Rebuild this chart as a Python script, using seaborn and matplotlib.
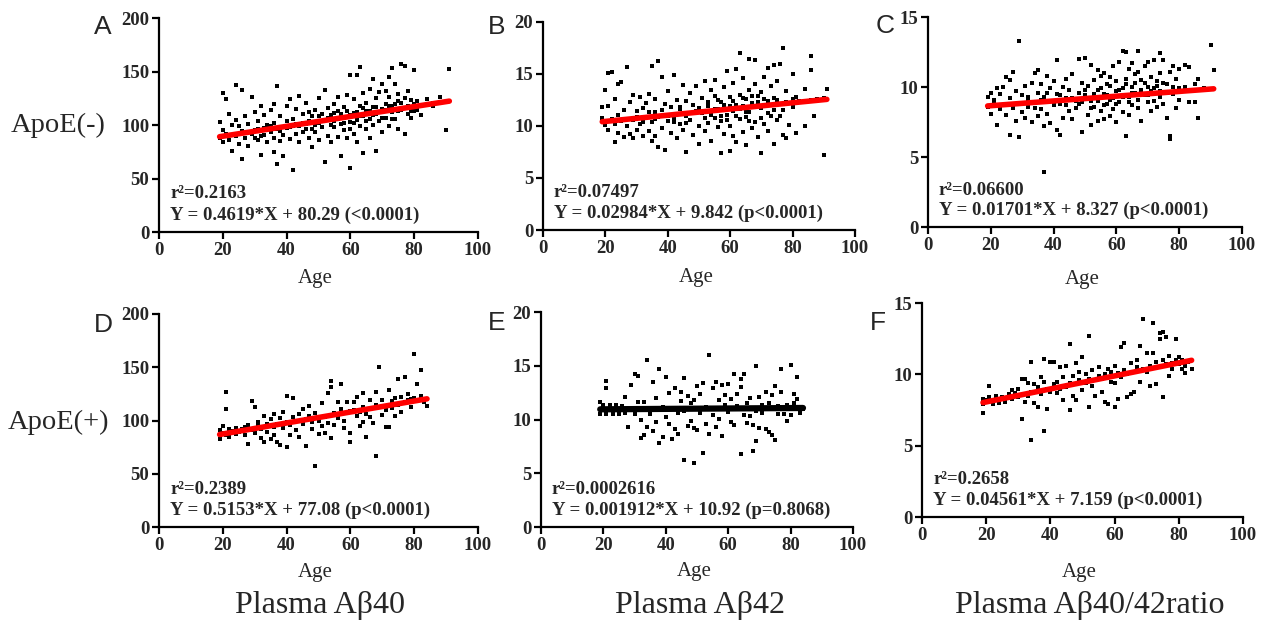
import pandas as pd
import matplotlib
matplotlib.use("Agg")
import matplotlib.pyplot as plt
import seaborn as sns

# (age, value) pairs
a40_neg = [(19,103),(19,88),(20,95),(20,130),(20,84),(21,124),(21,92),(22,110),(22,86),(23,76),(23,100),
           (24,137),(24,105),(24,90),(25,99),(25,82),(26,68),(26,133),(26,94),(27,88),(27,108),(28,101),(28,80),
           (29,126),(29,92),(30,95),(30,112),(31,86),(31,104),(32,118),(32,90),(32,72),(33,97),(33,109),(34,84),
           (34,100),(35,114),(35,93),(36,75),(36,88),(36,102),(36,120),(37,64),(37,136),(37,96),(38,108),(38,85),
           (39,91),(39,71),(40,104),(40,118),(41,87),(41,98),(41,124),(42,58),(42,106),(43,92),(43,115),(44,127),
           (44,99),(44,84),(45,110),(45,93),(46,101),(46,121),(47,88),(47,112),(48,96),(48,108),(48,79),(49,114),
           (49,93),(50,102),(50,125),(50,86),(51,98),(51,110),(52,65),(52,133),(52,105),(53,90),(53,116),(54,109),
           (54,84),(55,120),(55,98),(55,104),(56,89),(56,113),(56,126),(57,71),(57,101),(58,95),(58,117),(58,107),
           (59,128),(59,88),(60,60),(60,147),(60,103),(60,96),(61,111),(61,124),(61,92),(62,147),(62,105),(62,84),
           (63,154),(63,99),(63,118),(64,108),(64,74),(64,130),(65,96),(65,113),(65,121),(66,88),(66,134),(66,106),
           (67,117),(67,100),(67,143),(68,76),(68,125),(68,110),(69,131),(69,104),(70,93),(70,138),(70,115),
           (71,120),(71,107),(71,132),(72,99),(72,145),(72,126),(73,153),(73,112),(73,118),(74,138),(74,106),
           (75,96),(75,122),(75,129),(76,157),(76,114),(77,155),(77,92),(77,125),(78,118),(78,132),(79,113),
           (79,107),(80,151),(80,120),(81,122),(81,114),(82,109),(84,124),(86,118),(86,121),(88,126),(91,152),(90,95)]
a40_neg_core = [(30,88),(31,96),(33,91),(35,99),(38,94),(40,97),(42,99),(43,101),(45,102),(46,96),(47,104),
                (49,100),(50,108),(51,104),(53,107),(54,100),(55,111),(56,106),(57,110),(58,102),(59,113),(60,109),
                (61,102),(62,112),(63,108),(64,116),(65,104),(66,113),(67,109),(68,117),(69,112),(70,107),(71,114),
                (72,118),(73,106),(74,120),(75,113),(76,121),(77,116),(78,110),(79,123),(80,113)]

a42_neg = [(19,10.8),(19,11.8),(20,13.5),(20,10.1),(21,15.1),(21,11.9),(21,9.6),(22,15.2),(22,10.7),(23,8.5),
           (23,12.6),(23,10.2),(24,14.0),(24,9.3),(24,11.1),(25,14.2),(25,10.5),(26,8.9),(26,11.5),(27,15.7),
           (27,10.0),(28,12.3),(28,9.2),(29,13.0),(29,10.6),(29,8.8),(30,11.4),(30,9.6),(31,12.8),(31,10.2),
           (32,9.0),(32,11.7),(33,12.2),(33,10.8),(34,9.5),(34,13.1),(35,15.8),(35,10.4),(35,8.6),(36,11.3),
           (36,9.0),(36,12.6),(37,16.2),(37,10.9),(37,8.0),(38,14.7),(38,9.8),(39,12.1),(39,7.7),(40,10.5),
           (40,13.4),(41,11.8),(41,9.3),(42,14.9),(42,10.7),(43,12.5),(43,8.8),(44,10.2),(44,11.6),(45,13.9),
           (45,9.6),(46,7.5),(46,11.0),(46,12.4),(47,10.6),(47,13.2),(48,9.1),(48,12.0),(49,11.4),(49,13.8),
           (50,10.0),(50,8.3),(51,12.7),(51,11.2),(52,9.5),(52,14.3),(53,11.9),(53,10.3),(54,13.5),(54,8.6),
           (55,10.8),(55,12.9),(55,14.4),(56,9.9),(56,11.6),(57,7.4),(57,12.3),(57,10.5),(58,13.7),(58,9.2),
           (59,11.1),(59,15.3),(60,7.6),(60,12.8),(60,10.0),(61,14.1),(61,11.4),(61,9.0),(62,12.0),(62,8.5),
           (62,15.5),(63,17.0),(63,10.7),(63,13.0),(64,11.9),(64,9.4),(64,14.6),(65,12.6),(65,8.2),(65,10.9),
           (66,16.4),(66,11.3),(66,13.5),(67,9.8),(67,12.2),(68,16.3),(68,10.4),(68,14.0),(69,12.9),(69,8.9),
           (70,7.4),(70,11.7),(70,13.3),(71,14.7),(71,10.2),(72,15.6),(72,12.4),(72,9.5),(73,13.8),(73,11.0),
           (74,15.9),(74,12.7),(74,8.3),(75,10.6),(75,14.3),(76,16.0),(76,12.1),(77,17.5),(77,11.5),(77,9.1),
           (78,13.4),(78,8.8),(79,12.2),(79,10.1),(80,15.0),(80,11.8),(81,9.3),(81,12.8),(82,12.4),(84,10.0),
           (84,13.6),(86,16.7),(86,15.4),(86,12.5),(87,11.0),(88,12.6),(90,7.2),(90,12.7),(91,13.6)]
a42_neg_core = [(30,10.9),(32,10.4),(34,11.3),(36,10.7),(38,11.5),(40,11.0),(42,10.4),(44,11.8),(46,10.3),
                (48,11.2),(50,11.7),(52,10.8),(53,12.3),(54,11.1),(55,11.6),(56,12.5),(57,11.0),(58,12.0),
                (59,10.6),(60,11.9),(61,12.4),(62,11.0),(63,11.6),(64,12.7),(65,11.3),(66,10.5),(67,12.9),
                (68,11.8),(69,12.3),(70,10.8),(71,12.6),(72,11.2),(73,12.0),(74,11.5),(75,12.5),(76,11.0),
                (78,12.3),(80,12.6)]

ratio_neg = [(19,9.3),(19,8.6),(20,9.6),(20,8.1),(21,8.9),(21,9.1),(22,7.3),(22,9.9),(23,8.4),(23,9.5),(24,10.0),
             (24,8.7),(25,10.7),(25,8.0),(26,6.6),(26,9.2),(26,10.5),(27,11.1),(27,8.5),(28,9.7),(28,7.6),(29,13.3),
             (29,6.4),(29,8.8),(30,9.4),(30,8.2),(31,10.1),(31,7.8),(32,9.0),(32,8.6),(33,10.3),(33,7.5),(34,11.0),
             (34,8.9),(35,9.6),(35,7.9),(35,11.2),(36,8.4),(36,10.2),(37,3.9),(37,9.3),(37,7.2),(38,10.8),(38,8.1),
             (39,9.9),(39,7.4),(40,8.7),(40,10.4),(41,11.9),(41,9.5),(41,6.9),(42,6.6),(42,8.8),(43,10.0),(43,7.8),
             (44,9.2),(44,10.6),(45,8.3),(45,9.8),(46,10.9),(46,7.7),(47,9.0),(47,8.5),(48,12.0),(48,9.6),(49,6.8),
             (49,10.3),(49,8.9),(50,12.1),(50,9.4),(51,8.0),(51,10.1),(52,11.6),(52,9.0),(52,7.3),(53,8.6),(53,10.5),
             (54,9.8),(54,11.2),(54,7.6),(55,8.3),(55,10.8),(56,9.5),(56,7.7),(56,11.0),(57,10.2),(57,8.8),(58,9.1),
             (58,10.7),(58,7.9),(59,11.5),(59,8.4),(60,9.7),(60,10.4),(60,7.5),(61,8.9),(61,11.8),(62,12.6),(62,9.9),
             (62,8.2),(63,12.5),(63,6.5),(63,10.6),(64,9.3),(64,11.3),(64,8.0),(65,10.0),(65,8.7),(65,11.7),(66,9.6),
             (66,10.9),(67,12.6),(67,8.5),(67,11.1),(68,9.8),(68,7.6),(69,11.5),(69,10.3),(70,8.9),(70,11.8),(70,9.4),
             (71,10.7),(71,8.3),(72,11.9),(72,9.9),(73,10.4),(73,8.6),(74,12.4),(74,9.7),(74,11.0),(75,11.9),(75,8.8),
             (76,10.2),(76,7.8),(77,6.3),(77,6.5),(77,11.1),(78,9.5),(78,11.5),(79,10.6),(79,8.5),(80,9.1),(80,11.3),
             (82,11.6),(82,10.0),(83,11.4),(83,8.9),(85,8.9),(85,10.2),(86,7.8),(86,10.6),(88,9.9),(90,13.0),(91,11.2)]
ratio_neg_core = [(30,8.8),(32,9.3),(34,8.5),(36,9.1),(38,9.6),(40,8.9),(42,9.4),(44,8.7),(46,9.2),(48,8.8),
                  (50,9.8),(52,8.5),(53,9.5),(54,9.0),(55,9.9),(56,8.7),(57,9.4),(58,10.1),(59,9.2),(60,8.8),
                  (61,9.8),(62,9.3),(63,10.2),(64,8.9),(65,9.6),(66,10.3),(67,9.1),(68,10.5),(69,9.4),(70,10.0),
                  (71,9.7),(72,9.0),(73,10.1),(74,9.3),(75,10.3),(76,9.6),(78,10.0),(80,9.9)]

a40_pos = [(19,91),(19,83),(20,88),(20,95),(21,127),(21,111),(21,86),(22,92),(22,85),(23,90),(24,93),(24,87),
           (25,89),(26,92),(27,94),(27,86),(28,78),(28,96),(29,118),(29,91),(30,113),(30,88),(31,96),(31,99),
           (32,84),(32,92),(33,80),(33,104),(34,97),(34,89),(35,101),(35,83),(36,86),(36,94),(36,106),(37,97),
           (37,80),(38,102),(38,77),(39,108),(39,93),(40,123),(40,99),(40,75),(41,96),(41,86),(42,121),(42,103),
           (43,100),(43,91),(44,106),(44,85),(45,111),(45,97),(46,76),(46,101),(47,104),(47,114),(48,92),(48,99),
           (49,57),(49,107),(50,100),(50,87),(51,116),(51,95),(52,103),(52,88),(53,126),(53,98),(54,137),(54,131),
           (54,84),(55,107),(55,96),(56,102),(56,117),(57,134),(57,111),(58,100),(58,93),(59,117),(59,107),
           (60,80),(60,109),(60,88),(61,110),(61,117),(62,122),(62,104),(63,108),(63,95),(64,126),(64,113),
           (64,99),(65,85),(65,106),(66,119),(66,103),(67,98),(67,112),(68,67),(68,127),(68,115),(69,150),
           (69,113),(70,105),(70,119),(71,94),(71,110),(72,129),(72,94),(73,112),(73,118),(74,104),(74,121),
           (75,139),(75,115),(76,108),(76,122),(77,141),(77,117),(78,119),(78,125),(79,113),(79,120),(80,162),
           (80,121),(81,134),(81,118),(82,147),(82,123),(83,117),(84,114)]

a42_pos = [(19,11.6),(19,10.5),(20,11.4),(21,13.6),(21,12.9),(21,10.5),(22,11.4),(23,10.5),(24,11.4),(25,10.5),
           (26,11.3),(27,12.1),(27,10.6),(28,9.3),(29,13.2),(29,11.1),(30,14.2),(30,10.5),(31,14.1),(31,11.6),
           (32,10.0),(32,8.3),(33,11.6),(33,8.6),(34,15.5),(34,9.3),(35,11.0),(35,10.5),(36,13.5),(36,8.9),
           (37,9.8),(37,12.0),(38,14.7),(38,7.8),(39,11.2),(39,8.4),(40,14.0),(40,10.2),(41,12.5),(41,9.6),
           (42,11.0),(42,8.2),(43,12.9),(43,9.1),(44,10.6),(44,8.7),(45,11.7),(45,12.6),(46,6.2),(46,13.9),
           (46,10.8),(47,9.4),(47,12.2),(48,11.5),(48,9.9),(49,6.0),(49,9.2),(49,11.8),(50,13.1),(50,9.0),
           (51,12.4),(51,10.6),(52,6.9),(52,13.4),(53,11.2),(53,9.6),(54,16.0),(54,8.7),(55,12.9),(55,10.4),
           (56,13.5),(56,9.3),(57,11.8),(57,10.1),(58,13.2),(58,8.5),(59,11.4),(59,12.3),(60,10.7),(60,13.3),
           (61,9.8),(61,11.9),(62,14.2),(62,9.5),(63,11.3),(63,12.4),(64,6.8),(64,13.8),(64,13.0),(65,14.2),
           (65,10.4),(66,11.5),(66,9.7),(67,12.0),(67,10.3),(68,7.1),(68,9.5),(69,15.0),(69,8.0),(69,10.8),
           (70,12.1),(70,9.2),(71,10.6),(71,11.4),(72,9.1),(72,12.6),(73,11.5),(73,8.8),(74,8.6),(74,12.3),
           (75,13.1),(75,8.1),(76,11.3),(76,10.5),(77,14.7),(77,12.6),(78,10.5),(79,9.9),(79,11.4),(80,15.1),
           (80,10.4),(81,12.4),(81,11.5),(82,14.0),(82,11.9),(83,11.1),(83,10.6),(84,11.0)]

ratio_pos = [(19,7.3),(19,7.9),(19,8.3),(20,8.2),(21,9.2),(21,8.4),(22,7.9),(23,8.5),(24,8.0),(25,8.4),(26,8.1),
             (27,8.6),(28,8.9),(28,8.3),(29,8.7),(30,8.4),(30,9.0),(31,6.9),(31,9.7),(32,8.1),(32,9.7),(33,9.4),
             (33,8.5),(34,5.4),(34,10.9),(34,8.8),(35,9.3),(35,8.0),(36,7.7),(36,9.1),(37,8.6),(37,9.8),(38,6.0),
             (38,11.1),(38,9.5),(39,7.6),(39,9.0),(40,10.9),(40,8.8),(41,9.3),(41,10.9),(42,8.7),(42,9.5),(43,9.0),
             (43,10.5),(44,9.8),(44,8.2),(45,9.1),(45,10.6),(46,12.1),(46,7.5),(46,9.4),(47,8.5),(47,9.9),(48,10.8),
             (48,8.2),(49,9.6),(49,10.2),(50,11.2),(50,8.9),(51,9.4),(51,10.0),(52,12.7),(52,7.7),(52,9.7),(53,9.2),
             (53,10.3),(54,9.6),(54,8.5),(55,10.5),(55,9.9),(56,8.8),(56,9.7),(57,10.0),(57,8.1),(58,7.9),(58,10.4),
             (59,9.5),(59,10.2),(60,7.7),(60,10.6),(60,9.4),(61,10.1),(61,8.3),(62,11.9),(62,9.8),(63,12.2),
             (63,10.3),(64,8.4),(64,10.0),(65,8.6),(65,10.8),(66,10.2),(66,8.8),(67,11.0),(67,10.5),(68,12.0),
             (68,9.5),(69,13.9),(69,10.4),(70,11.5),(70,10.2),(71,10.6),(71,9.2),(72,13.6),(72,11.5),(73,10.9),
             (73,9.3),(74,12.9),(74,12.5),(74,10.5),(75,13.0),(75,8.4),(75,11.0),(76,12.6),(76,10.7),(77,11.3),
             (77,9.9),(78,10.8),(78,10.4),(79,12.5),(79,11.0),(80,10.7),(80,11.2),(81,10.4),(81,11.0),(82,10.1),
             (82,10.6),(83,10.9),(84,10.4)]

# linear fits as printed on the figure
slopes = [0.4619, 0.02984, 0.01701, 0.5153, 0.001912, 0.04561]
intercepts = [80.29, 9.842, 8.327, 77.08, 10.92, 7.159]
r2_labels = ["r²=0.2163", "r²=0.07497", "r²=0.06600", "r²=0.2389", "r²=0.0002616", "r²=0.2658"]
eq_labels = ["Y = 0.4619*X + 80.29 (<0.0001)", "Y = 0.02984*X + 9.842 (p<0.0001)",
             "Y = 0.01701*X + 8.327 (p<0.0001)", "Y = 0.5153*X + 77.08 (p<0.0001)",
             "Y = 0.001912*X + 10.92 (p=0.8068)", "Y = 0.04561*X + 7.159 (p<0.0001)"]
panel_letters = ["A", "B", "C", "D", "E", "F"]
y_maxes = [200, 20, 15, 200, 20, 15]
y_steps = [50, 5, 5, 50, 5, 5]
line_colors = ["#ff0000", "#ff0000", "#ff0000", "#ff0000", "#000000", "#ff0000"]
row_labels = ["ApoE(-)", "ApoE(+)"]
col_titles = ["Plasma Aβ40", "Plasma Aβ42", "Plasma Aβ40/42ratio"]

datasets = [a40_neg + a40_neg_core, a42_neg + a42_neg_core, ratio_neg + ratio_neg_core,
            a40_pos, a42_pos, ratio_pos]

sns.set_style("ticks")
plt.rcParams['font.family'] = ['Liberation Serif', 'DejaVu Serif']

fig = plt.figure(figsize=(12.66, 6.23), dpi=100)
W, H = 1266, 623

# axes rectangles [left, bottom, width, height] in figure fractions
rects = [
    [0.1256, 0.6276, 0.2520, 0.3435],
    [0.4289, 0.6308, 0.2464, 0.3340],
    [0.7330, 0.6356, 0.2480, 0.3370],
    [0.1256, 0.1540, 0.2520, 0.3420],
    [0.4273, 0.1540, 0.2464, 0.3450],
    [0.7283, 0.1700, 0.2535, 0.3435],
]
# (r2 y, equation y) in data units
text_y = [(36, 16), (3.56, 1.6), (2.64, 1.2), (35.7, 16), (3.5, 1.6), (2.6, 1.2)]
# "Age" label vertical position (axes fraction)
age_y = [-0.215, -0.23, -0.252, -0.211, -0.209, -0.257]
# panel letter positions in pixels
letter_xy = [(103, 27), (497, 27), (885, 26), (103, 325), (497, 323), (878, 323)]

for i, pts in enumerate(datasets):
    ax = fig.add_axes(rects[i])
    df = pd.DataFrame(pts, columns=['age', 'value'])
    sns.scatterplot(data=df, x='age', y='value', ax=ax, marker='s', s=7,
                    color='black', linewidth=0, zorder=2)
    x0, x1 = df['age'].min(), df['age'].max()
    fit = pd.DataFrame({'age': [x0, x1],
                        'value': [slopes[i] * x0 + intercepts[i], slopes[i] * x1 + intercepts[i]]})
    sns.lineplot(data=fit, x='age', y='value', ax=ax, color=line_colors[i],
                 linewidth=4 if i != 4 else 4.5, zorder=3)

    ax.set_xlim(0, 100)
    ax.set_ylim(0, y_maxes[i])
    ax.set_xticks(range(0, 101, 20))
    ax.set_yticks(range(0, y_maxes[i] + 1, y_steps[i]))
    for lab in ax.get_xticklabels() + ax.get_yticklabels():
        lab.set_fontweight('bold')
        lab.set_fontsize(13.5)
    ax.tick_params(direction='out', length=5, width=1.6, color='black', pad=2)
    sns.despine(ax=ax)
    for sp in ['left', 'bottom']:
        ax.spines[sp].set_linewidth(1.6)
        ax.spines[sp].set_color('black')
    ax.set_ylabel('')
    ax.set_xlabel('Age', fontsize=15)
    ax.xaxis.label.set_va('center')
    ax.xaxis.set_label_coords(0.49, age_y[i])

    ax.text(3.5, text_y[i][0], r2_labels[i], fontsize=13.5, fontweight='bold', va='center')
    ax.text(3.5, text_y[i][1], eq_labels[i], fontsize=13.5, fontweight='bold', va='center')

    lx, ly = letter_xy[i]
    fig.text(lx / W, 1 - ly / H, panel_letters[i], fontsize=19,
             family=['Liberation Sans', 'DejaVu Sans'], ha='center', va='center')

fig.text(58 / W, 1 - 125 / H, row_labels[0], fontsize=20.5, ha='center', va='center')
fig.text(58 / W, 1 - 422 / H, row_labels[1], fontsize=20.5, ha='center', va='center')
for x, t in zip([320, 700, 1090], col_titles):
    fig.text(x / W, 1 - 605 / H, t, fontsize=23, ha='center', va='center')

fig.savefig('out.png', dpi=100)
